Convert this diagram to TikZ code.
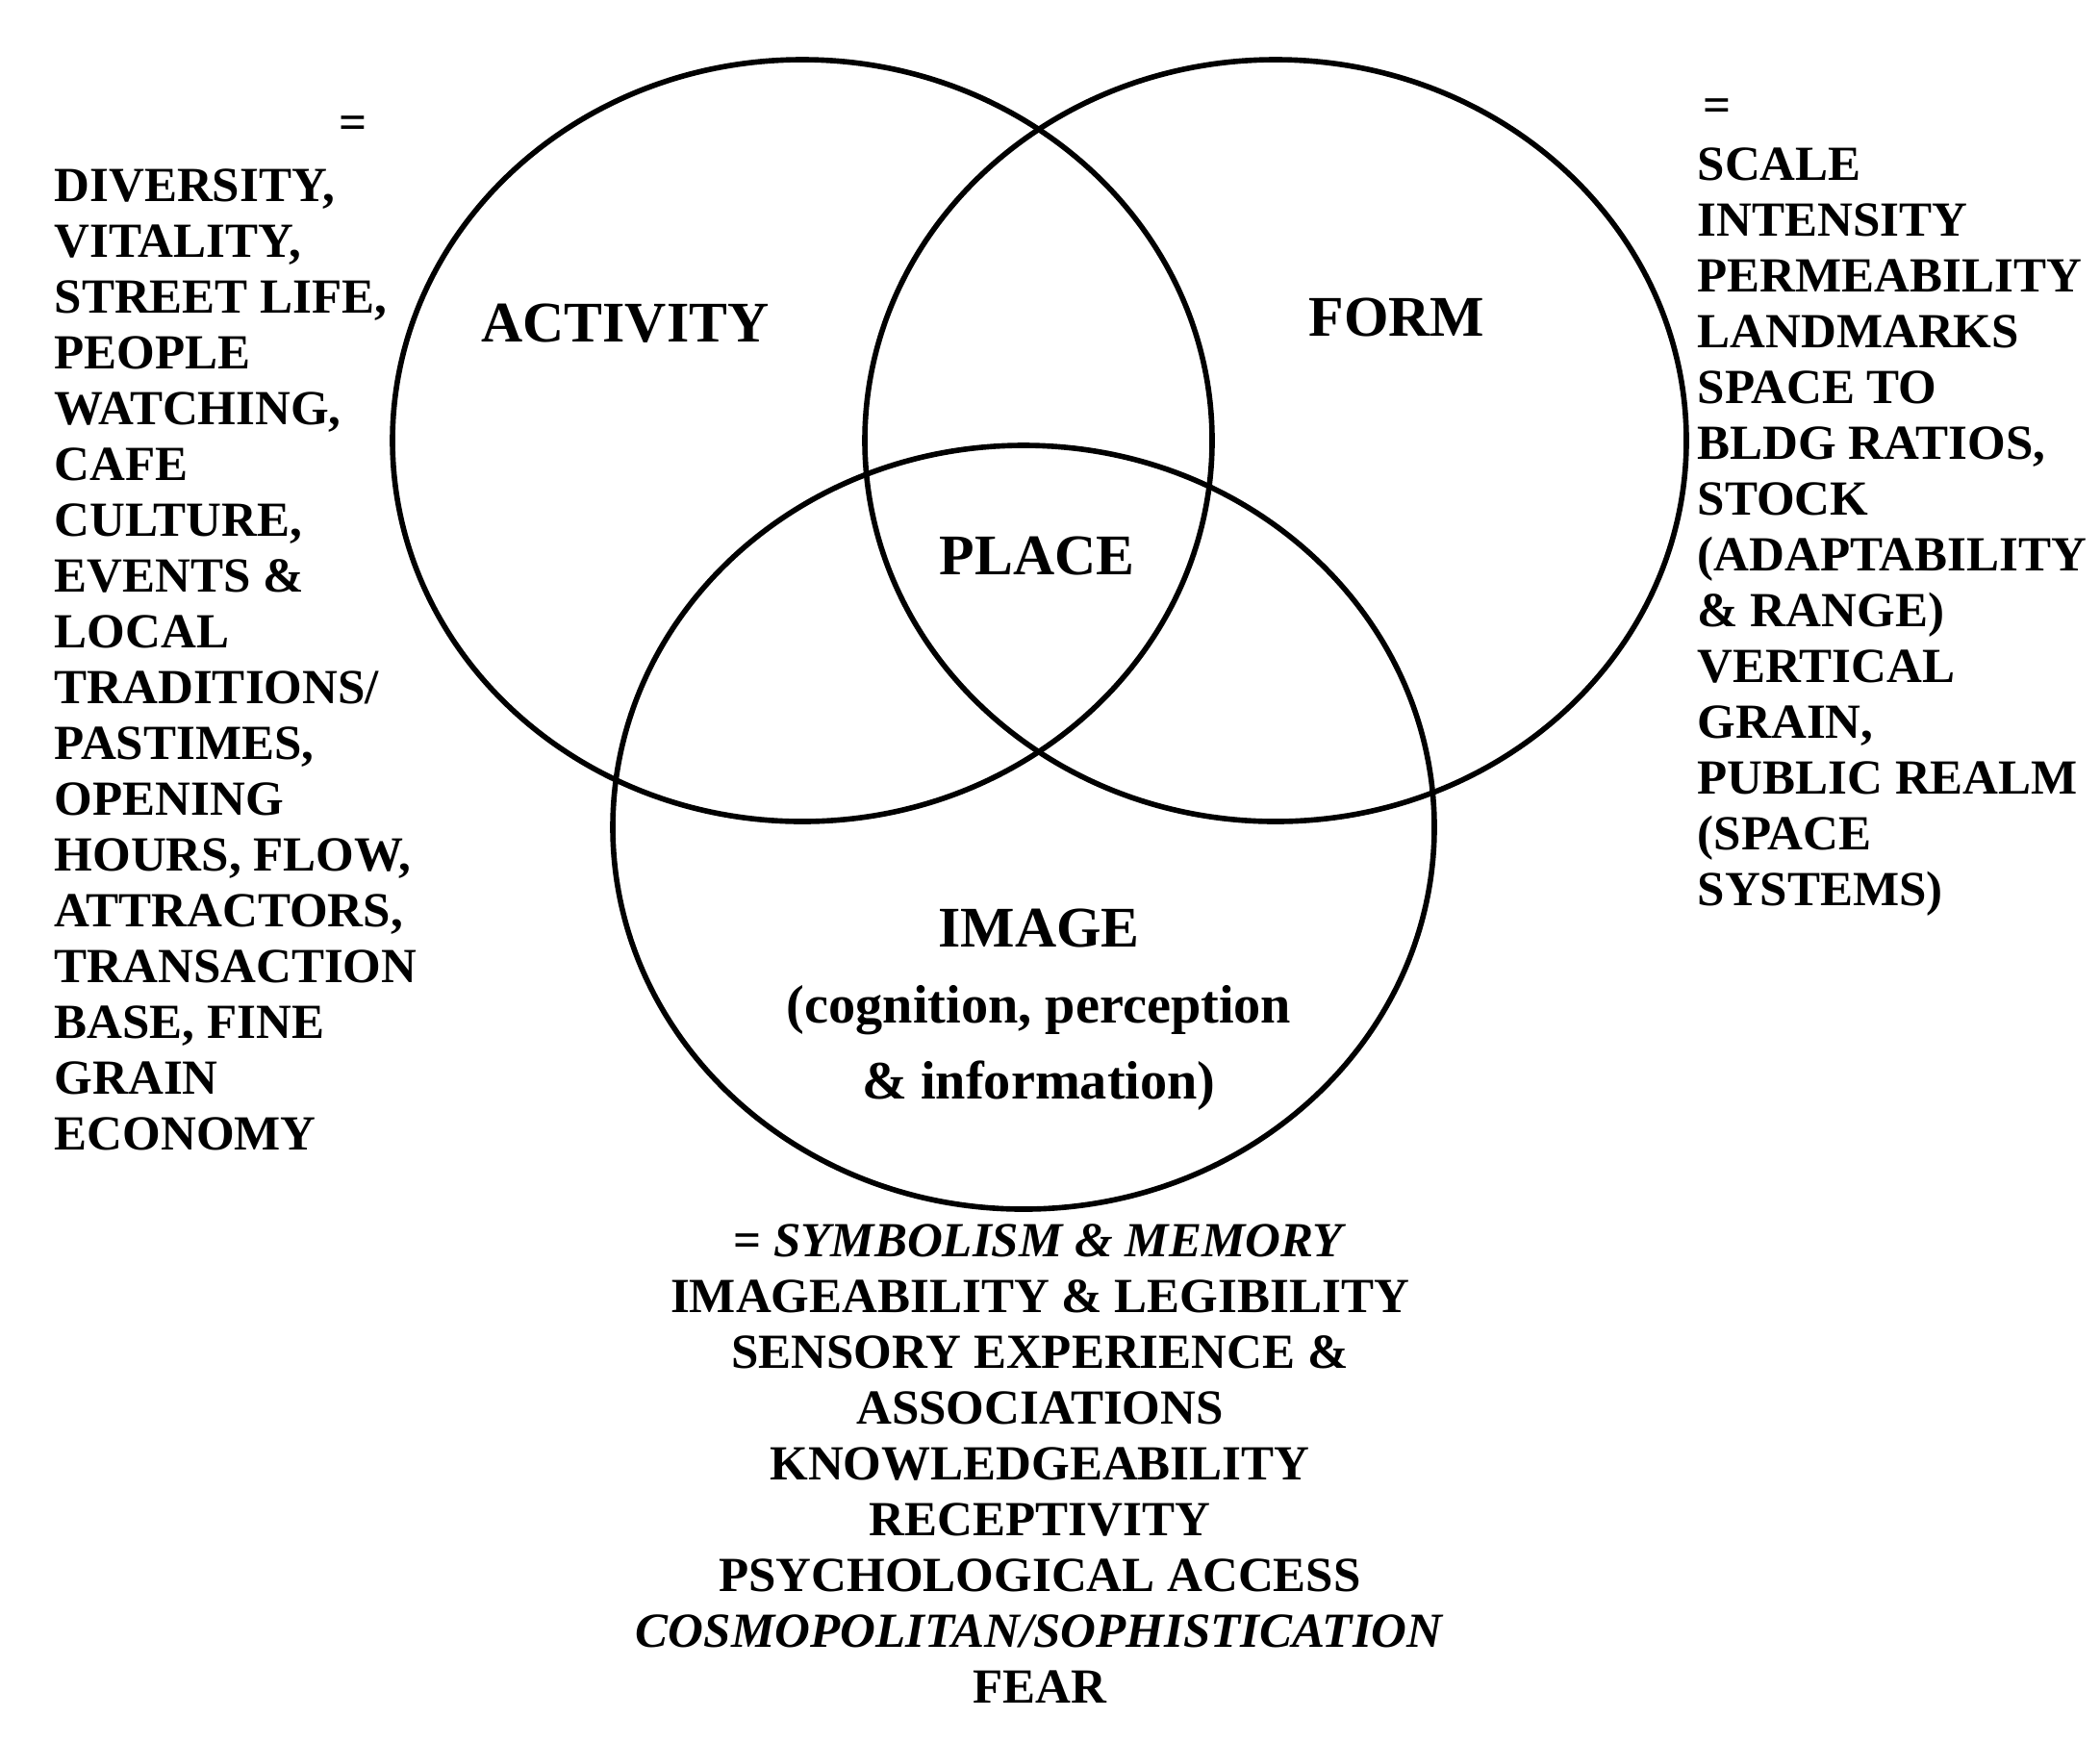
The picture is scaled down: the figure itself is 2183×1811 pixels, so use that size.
\documentclass[tikz,border=0pt]{standalone}
\usepackage{fontspec}
\setmainfont{Liberation Serif}
\begin{document}
\begin{tikzpicture}[x=0.01cm,y=-0.01cm,
  circ/.style={line width=1.6pt,draw=black},
  lst/.style={font=\bfseries\fontsize{14.5}{16.5}\selectfont,inner sep=0pt},
  lab/.style={font=\bfseries\fontsize{17}{19}\selectfont,inner sep=0pt,align=center}]
\useasboundingbox (0,0) rectangle (2183,1811);
\draw[circ] (834,458) ellipse [x radius=426,y radius=396];
\draw[circ] (1326,458) ellipse [x radius=427,y radius=396];
\draw[circ] (1064,860) ellipse [x radius=427,y radius=397];
\node[lab] (act) at (650,336) {ACTIVITY};
\node[lab] (form) at (1452,330) {FORM};
\node[lab] (place) at (1078,578) {PLACE};
\node[lab,font=\bfseries\fontsize{16}{22.5}\selectfont] (img) at (1080,1050) {{\fontsize{17}{19}\selectfont IMAGE}\\(cognition, perception\\\& information)};
\node[lst] (eql) at (367,133) {=};
\node[lst,anchor=north west,align=left] (left) at (56,175) {DIVERSITY,\\VITALITY,\\STREET LIFE,\\PEOPLE\\WATCHING,\\CAFE\\CULTURE,\\EVENTS \&\\LOCAL\\TRADITIONS/\\PASTIMES,\\OPENING\\HOURS, FLOW,\\ATTRACTORS,\\TRANSACTION\\BASE, FINE\\GRAIN\\ECONOMY};
\node[lst] (eqr) at (1785,115) {=};
\node[lst,anchor=north west,align=left] (right) at (1764,153) {SCALE\\INTENSITY\\PERMEABILITY\\LANDMARKS\\SPACE TO\\BLDG RATIOS,\\STOCK\\(ADAPTABILITY\\\& RANGE)\\VERTICAL\\GRAIN,\\PUBLIC REALM\\(SPACE\\SYSTEMS)};
\node[lst,anchor=north,align=center] (bottom) at (1081,1272) {= \textit{SYMBOLISM \& MEMORY}\\IMAGEABILITY \& LEGIBILITY\\SENSORY EXPERIENCE \&\\ASSOCIATIONS\\KNOWLEDGEABILITY\\RECEPTIVITY\\PSYCHOLOGICAL ACCESS\\\textit{COSMOPOLITAN/SOPHISTICATION}\\FEAR};
\end{tikzpicture}
\end{document}
